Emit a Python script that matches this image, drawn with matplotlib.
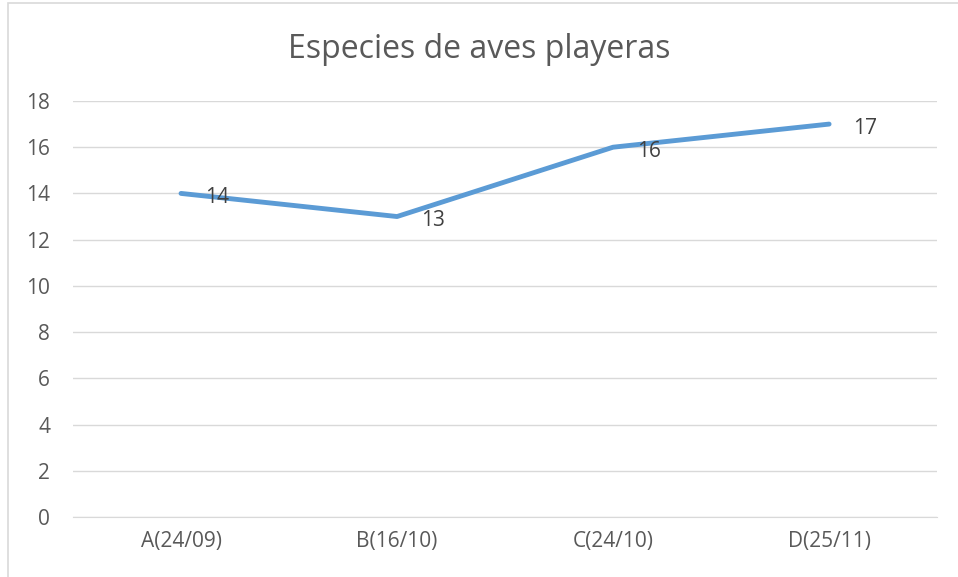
import matplotlib.pyplot as plt
from matplotlib.patches import Rectangle

categories = ['A(24/09)', 'B(16/10)', 'C(24/10)', 'D(25/11)']
species = [14, 13, 16, 17]

plt.rcParams['font.family'] = ['Open Sans', 'DejaVu Sans']

fig = plt.figure(figsize=(9.58, 5.77), dpi=100)
ax = fig.add_axes([0.0762, 0.104, 0.902, 0.721])

# outer chart border (cropped at right/bottom like the reference)
fig.patches.append(Rectangle((8 / 958, -0.1), 1.1, 1 - 3 / 577 + 0.1,
                             transform=fig.transFigure, fill=False,
                             edgecolor='#d9d9d9', linewidth=1.2))

x = list(range(len(categories)))
ax.plot(x, species, color='#5b9bd5', linewidth=3.5, solid_capstyle='round',
        solid_joinstyle='round', zorder=3)

for xi, v in zip(x, species):
    ax.annotate(str(v), (xi, v), xytext=(17, -3), textcoords='offset points',
                ha='left', va='center', fontsize=15, color='#404040', zorder=4)

ax.set_xlim(-0.5, len(categories) - 0.5)
ax.set_ylim(0, 18)
ax.set_yticks(range(0, 19, 2))
ax.set_xticks(x)
ax.set_xticklabels(categories)
ax.tick_params(axis='both', length=0, labelsize=15, colors='#595959')
ax.tick_params(axis='y', pad=16.5)
ax.tick_params(axis='x', pad=10)

ax.grid(axis='y', color='#d9d9d9', linewidth=1)
ax.set_axisbelow(True)
for s in ['top', 'right', 'left']:
    ax.spines[s].set_visible(False)
ax.spines['bottom'].set_color('#d9d9d9')

fig.text(0.5, 1 - 49 / 577, 'Especies de aves playeras', ha='center',
         va='center', fontsize=23, color='#595959')

plt.savefig('out.png', dpi=100)
